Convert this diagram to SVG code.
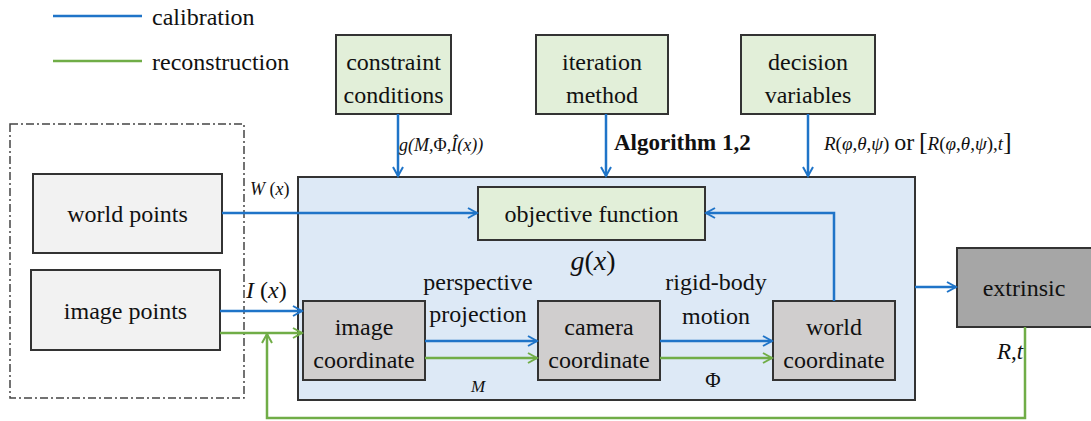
<svg xmlns="http://www.w3.org/2000/svg" width="1091" height="421" viewBox="0 0 1091 421">
<defs>
<marker id="ab" markerWidth="12" markerHeight="12" refX="10" refY="6" orient="auto" markerUnits="userSpaceOnUse"><path d="M1,1 L10,6 L1,11" fill="none" stroke="#1f74c8" stroke-width="2"/></marker>
<marker id="ag" markerWidth="12" markerHeight="12" refX="10" refY="6" orient="auto" markerUnits="userSpaceOnUse"><path d="M1,1 L10,6 L1,11" fill="none" stroke="#70ad47" stroke-width="2"/></marker>
</defs>
<style>
text{fill:#111;font-family:"Liberation Serif","Times New Roman",serif;}
.t{font-size:24px;text-anchor:middle;}
.m{font-style:italic;}
.box{stroke:#333;stroke-width:2;}
.g{fill:#e2efd9;}
.lg{fill:#f2f2f2;}
.gr{fill:#d0cece;}
.b{stroke:#1f74c8;stroke-width:2.5;fill:none;}
.gn{stroke:#70ad47;stroke-width:2.5;fill:none;}
</style>
<rect width="1091" height="421" fill="#fff"/>
<g id="legend">
<line x1="53" y1="16" x2="142" y2="16" class="b"/>
<text x="152" y="25" font-size="24">calibration</text>
<line x1="53" y1="61" x2="142" y2="61" class="gn"/>
<text x="152" y="70" font-size="24">reconstruction</text>
</g>
<g id="input-group"><rect x="10" y="124" width="234" height="274" fill="none" stroke="#444" stroke-width="1.5" stroke-dasharray="8,3,2,3"/></g>
<g id="main-box"><rect x="298" y="177" width="617" height="223" fill="#dde9f6" class="box"/></g>
<g id="constraint"><rect x="336" y="35" width="115" height="79" class="box g"/><text x="393.5" y="70" class="t">constraint</text><text x="393.5" y="103" class="t">conditions</text></g>
<g id="iteration"><rect x="536" y="35" width="132" height="79" class="box g"/><text x="602" y="70" class="t">iteration</text><text x="602" y="103" class="t">method</text></g>
<g id="decision"><rect x="741" y="35" width="134" height="79" class="box g"/><text x="808" y="70" class="t">decision</text><text x="808" y="103" class="t">variables</text></g>
<g id="world-points"><rect x="33" y="174" width="189" height="79" class="box lg"/><text x="127.5" y="222" class="t">world points</text></g>
<g id="image-points"><rect x="31" y="270" width="189" height="80" class="box lg"/><text x="125.5" y="319" class="t">image points</text></g>
<g id="objective"><rect x="478" y="187" width="227" height="53" class="box g"/><text x="591.5" y="222" class="t">objective function</text></g>
<g id="image-coord"><rect x="303" y="301" width="122" height="79" class="box gr"/><text x="364" y="335" class="t">image</text><text x="364" y="368" class="t">coordinate</text></g>
<g id="camera-coord"><rect x="538" y="301" width="122" height="79" class="box gr"/><text x="599" y="335" class="t">camera</text><text x="599" y="368" class="t">coordinate</text></g>
<g id="world-coord"><rect x="773" y="301" width="122" height="79" class="box gr"/><text x="834" y="335" class="t">world</text><text x="834" y="368" class="t">coordinate</text></g>
<g id="extrinsic"><rect x="957" y="248" width="140" height="79" fill="#a6a6a6" stroke="#333" stroke-width="2"/><text x="1024" y="296" class="t">extrinsic</text></g>
<g id="connectors">
<line x1="398" y1="114" x2="398" y2="176" class="b" marker-end="url(#ab)"/>
<line x1="606" y1="114" x2="606" y2="176" class="b" marker-end="url(#ab)"/>
<line x1="808" y1="114" x2="808" y2="176" class="b" marker-end="url(#ab)"/>
<line x1="222" y1="213" x2="477" y2="213" class="b" marker-end="url(#ab)"/>
<line x1="220" y1="311" x2="302" y2="311" class="b" marker-end="url(#ab)"/>
<line x1="220" y1="333" x2="302" y2="333" class="gn" marker-end="url(#ag)"/>
<line x1="425" y1="341" x2="537" y2="341" class="b" marker-end="url(#ab)"/>
<line x1="425" y1="358" x2="537" y2="358" class="gn" marker-end="url(#ag)"/>
<line x1="660" y1="341" x2="772" y2="341" class="b" marker-end="url(#ab)"/>
<line x1="660" y1="358" x2="772" y2="358" class="gn" marker-end="url(#ag)"/>
<polyline points="834,301 834,213 706,213" class="b" marker-end="url(#ab)"/>
<line x1="915" y1="287" x2="956" y2="287" class="b" marker-end="url(#ab)"/>
<polyline points="1025,327 1025,418 267,418 267,334" class="gn" marker-end="url(#ag)"/>
</g>
<g id="labels">
<text x="399" y="151" font-size="18" class="m">g(M,<tspan font-style="normal">Φ</tspan>,Î(x))</text>
<text x="614" y="150" font-size="23" font-weight="bold">Algorithm 1,2</text>
<text x="824" y="150" font-size="19"><tspan class="m">R</tspan>(<tspan class="m">φ</tspan>,<tspan class="m">θ</tspan>,<tspan class="m">ψ</tspan>)  <tspan font-size="24">or</tspan>  <tspan font-size="26">[</tspan><tspan class="m">R</tspan>(<tspan class="m">φ</tspan>,<tspan class="m">θ</tspan>,<tspan class="m">ψ</tspan>),<tspan class="m">t</tspan><tspan font-size="26">]</tspan></text>
<text x="250" y="195" font-size="18" class="m">W <tspan font-style="normal">(</tspan>x<tspan font-style="normal">)</tspan></text>
<text x="246" y="298" font-size="24" class="m">I <tspan font-style="normal">(</tspan>x<tspan font-style="normal">)</tspan></text>
<text x="593" y="270" font-size="28" class="m" text-anchor="middle">g<tspan font-style="normal">(</tspan>x<tspan font-style="normal">)</tspan></text>
<text x="478" y="290" class="t">perspective</text>
<text x="478" y="322" class="t">projection</text>
<text x="478" y="392" font-size="17" class="m" text-anchor="middle">M</text>
<text x="716" y="290" class="t">rigid-body</text>
<text x="716" y="324" class="t">motion</text>
<text x="713" y="387" font-size="21" text-anchor="middle">Φ</text>
<text x="1010" y="359" font-size="23" class="m" text-anchor="middle">R<tspan font-style="normal">,</tspan>t</text>
</g>
</svg>
